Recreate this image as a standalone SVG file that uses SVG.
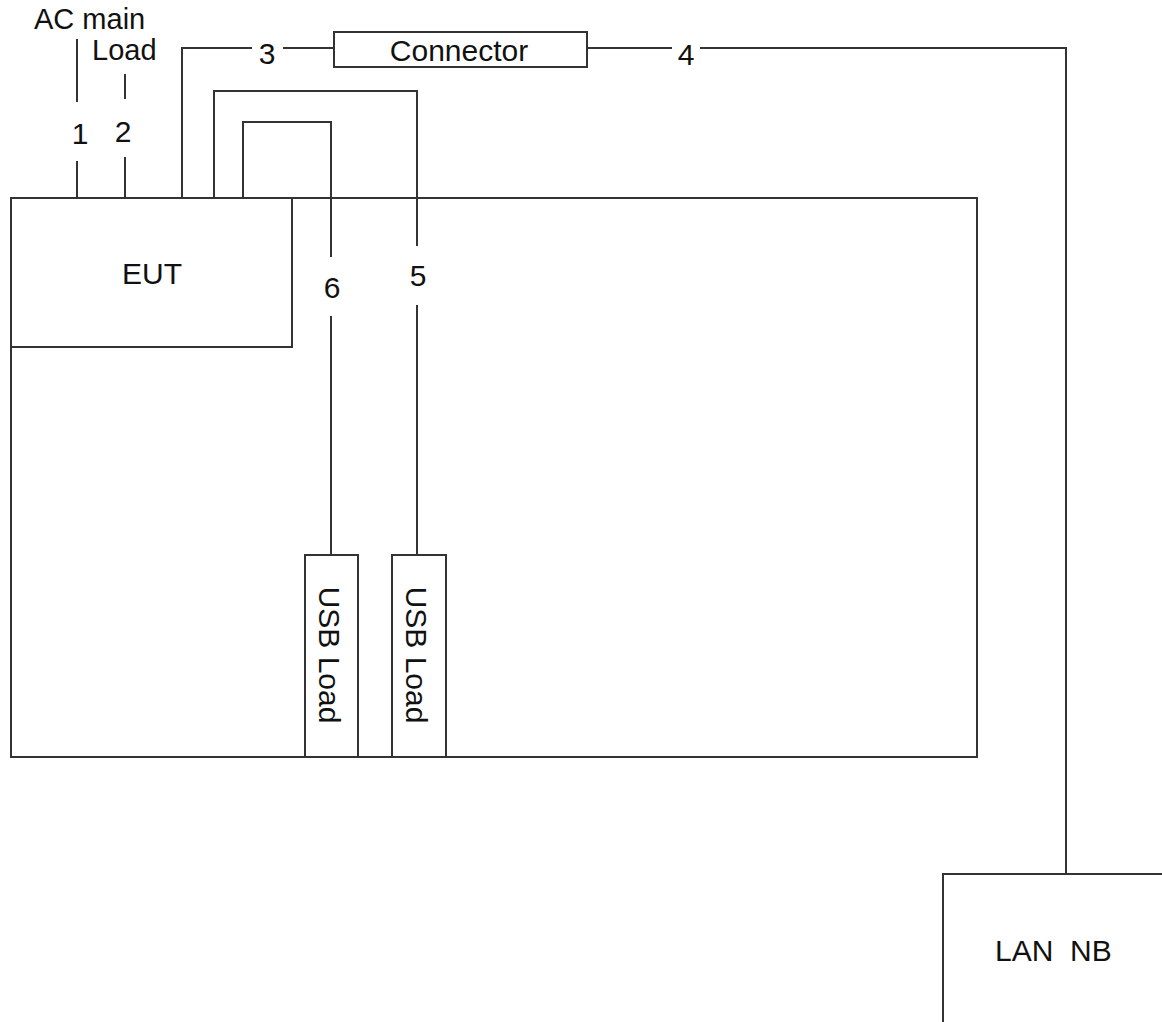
<svg xmlns="http://www.w3.org/2000/svg" width="1162" height="1022" viewBox="0 0 1162 1022">
<style>
.box{fill:none;stroke:#333;stroke-width:2}
.ln{fill:none;stroke:#333;stroke-width:2}
.t{font-family:"Liberation Sans",Arial,sans-serif;font-size:30px;fill:#111}
.m{text-anchor:middle}
</style>
<rect width="1162" height="1022" fill="#fff"/>
<g id="table"><rect class="box" x="11" y="198" width="966" height="559"/></g>
<g id="eut"><rect class="box" x="11" y="198" width="281" height="149"/><text class="t m" x="152" y="284">EUT</text></g>
<g id="connector"><rect class="box" x="334" y="32" width="253" height="35"/><text class="t m" x="459" y="61">Connector</text></g>
<g id="usb1"><rect class="box" x="305" y="555" width="53" height="202"/><text class="t m" transform="translate(319,655) rotate(90)">USB Load</text></g>
<g id="usb2"><rect class="box" x="392" y="555" width="54" height="202"/><text class="t m" transform="translate(406,655) rotate(90)">USB Load</text></g>
<g id="lan"><rect class="box" x="943" y="874" width="240" height="170"/><text class="t" x="995" y="961" xml:space="preserve">LAN  NB</text></g>
<g id="acmain"><text class="t" x="34" y="29" style="font-size:29px">AC main</text></g>
<g id="load"><text class="t" x="92" y="60" style="font-size:29px">Load</text></g>
<g id="connectors">
<path class="ln" d="M77 39V102M77 161V198"/>
<path class="ln" d="M125 74V99M125 157V198"/>
<path class="ln" d="M182 198V48H252M283 48H334"/>
<path class="ln" d="M587 48H672M700 48H1066V874"/>
<path class="ln" d="M214 198V91H417V246M417 305V555"/>
<path class="ln" d="M243 198V122H331V257M331 316V555"/>
<text class="t m" x="80" y="144">1</text>
<text class="t m" x="123" y="142">2</text>
<text class="t m" x="267" y="64">3</text>
<text class="t m" x="686" y="65">4</text>
<text class="t m" x="418" y="286">5</text>
<text class="t m" x="332" y="298">6</text>
</g>
</svg>
